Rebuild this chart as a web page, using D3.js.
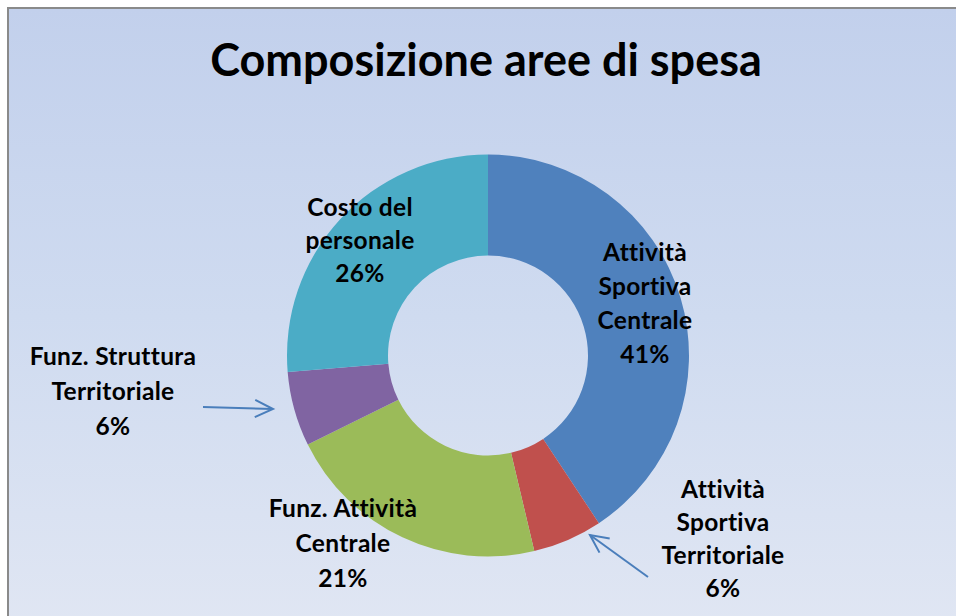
<!DOCTYPE html>
<html><head><meta charset="utf-8">
<script src="https://cdn.jsdelivr.net/npm/d3@7"></script>
<style>html,body{margin:0;padding:0;background:#fff;overflow:hidden}</style>
</head><body>
<svg id="chart" width="956" height="616"></svg>
<script>
// ---- data ----
const categories = ["Attività Sportiva Centrale","Attività Sportiva Territoriale","Funz. Attività Centrale","Funz. Struttura Territoriale","Costo del personale"];
const values = [40.7, 5.6, 21.4, 6.0, 26.3];
const labelLines = [["Attività","Sportiva","Centrale"],["Attività","Sportiva","Territoriale"],["Funz. Attività","Centrale"],["Funz. Struttura","Territoriale"],["Costo del","personale"]];
const colors = ["#4F81BD","#C0504D","#9BBB59","#8064A2","#4BACC6"];
const title = "Composizione aree di spesa";

// ---- layout ----
const W = 956, H = 616;
const cx = 488, cy = 355.5, rOut = 201, rIn = 100;
const labelPos = [{x:645,y:252,dy:34},{x:723,y:489,dy:33},{x:343,y:508,dy:35},{x:113,y:356,dy:35},{x:360,y:207,dy:33}];
const arrows = [null,{from:[648,577],to:[590,535]},null,{from:[203,407],to:[273,409]},null];

const svg = d3.select("#chart");
const defs = svg.append("defs");
const g = defs.append("linearGradient").attr("id","bg").attr("x1",0).attr("y1",0).attr("x2",0).attr("y2",1);
g.append("stop").attr("offset","0%").attr("stop-color","#c2d0ec");
g.append("stop").attr("offset","50%").attr("stop-color","#cfdbf0");
g.append("stop").attr("offset","100%").attr("stop-color","#e0e6f3");

svg.append("rect").attr("x",8).attr("y",8).attr("width",W).attr("height",H).attr("fill","url(#bg)");
svg.append("path").attr("d",`M8,${H} L8,8 L${W},8`).attr("fill","none").attr("stroke","#8a8a8a").attr("stroke-width",2);

svg.append("text").attr("x",486).attr("y",76).attr("text-anchor","middle")
  .attr("font-family","Lato, 'Open Sans', sans-serif").attr("font-weight","bold").attr("font-size",45)
  .attr("fill","#000").text(title);

const data = categories.map((c,i)=>({cat:c,value:values[i],i}));
const total = d3.sum(values);
const pie = d3.pie().value(d=>d.value).sort(null);
const arc = d3.arc().innerRadius(rIn).outerRadius(rOut);
const arcs = pie(data);
const gp = svg.append("g").attr("transform",`translate(${cx},${cy})`);
gp.selectAll("path").data(arcs).join("path").attr("d",arc).attr("fill",d=>colors[d.data.i]);

const fmt = d3.format(".0%");
const lg = svg.append("g").attr("font-family","Lato, 'Open Sans', sans-serif").attr("font-weight","bold").attr("font-size",24.5).attr("letter-spacing","0.3px").attr("fill","#000").attr("text-anchor","middle");
data.forEach((d,i)=>{
  const lines = labelLines[i].concat([fmt(d.value/total)]);
  const p = labelPos[i];
  const t = lg.append("text");
  lines.forEach((l,k)=>{
    t.append("tspan").attr("x",p.x).attr("y",p.y + k*p.dy).attr("dy","0.36em").text(l);
  });
});

const ag = svg.append("g").attr("stroke","#4A7EBB").attr("stroke-width",2).attr("fill","none");
arrows.forEach(a=>{
  if(!a) return;
  const [x1,y1]=a.from,[x2,y2]=a.to;
  const ang = Math.atan2(y2-y1,x2-x1);
  const L=20, A=0.45;
  ag.append("line").attr("x1",x1).attr("y1",y1).attr("x2",x2).attr("y2",y2);
  ag.append("path").attr("d",`M${x2-L*Math.cos(ang-A)},${y2-L*Math.sin(ang-A)} L${x2},${y2} L${x2-L*Math.cos(ang+A)},${y2-L*Math.sin(ang+A)}`);
});
</script>
</body></html>
